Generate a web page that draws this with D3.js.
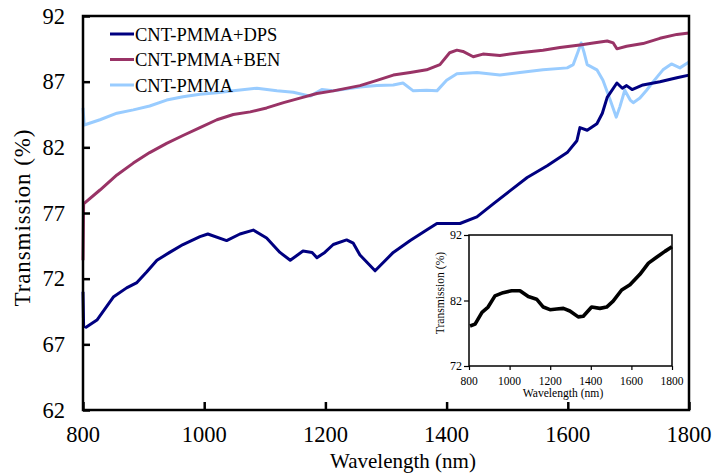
<!DOCTYPE html>
<html>
<head>
<meta charset="utf-8">
<script src="https://cdn.jsdelivr.net/npm/d3@7"></script>
<style>
  body { margin: 0; background: #fff; }
  text { font-family: "Liberation Serif", "Times New Roman", serif; fill: #000; }
</style>
</head>
<body>
<svg width="714" height="473"></svg>
<script>
// wavelength (nm) / transmission (%) pairs
const dpsWave = [800, 801, 805, 823, 850, 872, 889, 905, 922, 943, 965, 993, 1006, 1037, 1059, 1081, 1103, 1125, 1142, 1163, 1178, 1186, 1199, 1213, 1235, 1246, 1257, 1282, 1312, 1340, 1367, 1384, 1422, 1450, 1477, 1505, 1533, 1566, 1599, 1615, 1620, 1632, 1648, 1657, 1665, 1681, 1690, 1697, 1706, 1724, 1752, 1780, 1800];
const dpsTrans = [71.0, 68.4, 68.3, 68.85, 70.6, 71.3, 71.7, 72.5, 73.4, 74.0, 74.6, 75.2, 75.4, 74.9, 75.4, 75.7, 75.1, 74.0, 73.4, 74.1, 74.0, 73.6, 74.0, 74.6, 74.95, 74.7, 73.8, 72.6, 74.0, 74.9, 75.7, 76.2, 76.2, 76.7, 77.7, 78.7, 79.7, 80.6, 81.6, 82.5, 83.5, 83.3, 83.8, 84.6, 85.8, 86.9, 86.5, 86.7, 86.4, 86.75, 87.0, 87.3, 87.5];

const benWave = [800, 801, 828, 856, 883, 910, 938, 965, 993, 1021, 1048, 1076, 1103, 1131, 1158, 1186, 1213, 1257, 1285, 1312, 1340, 1367, 1389, 1405, 1417, 1427, 1444, 1460, 1488, 1521, 1559, 1587, 1620, 1642, 1665, 1675, 1681, 1697, 1724, 1752, 1780, 1800];
const benTrans = [73.4, 77.7, 78.75, 79.9, 80.8, 81.6, 82.3, 82.9, 83.5, 84.1, 84.5, 84.7, 85.0, 85.4, 85.75, 86.1, 86.3, 86.7, 87.1, 87.5, 87.7, 87.9, 88.3, 89.2, 89.4, 89.3, 88.9, 89.1, 89.0, 89.2, 89.4, 89.6, 89.8, 89.95, 90.1, 89.95, 89.5, 89.7, 89.9, 90.3, 90.6, 90.7];

const pmmaWave = [800, 802, 828, 856, 883, 910, 938, 965, 993, 1021, 1048, 1087, 1120, 1147, 1175, 1194, 1213, 1257, 1285, 1312, 1328, 1345, 1367, 1384, 1400, 1417, 1450, 1488, 1521, 1559, 1599, 1609, 1617, 1622, 1627, 1632, 1648, 1658, 1670, 1680, 1686, 1694, 1703, 1708, 1719, 1730, 1741, 1757, 1771, 1785, 1800];
const pmmaTrans = [85.0, 83.7, 84.1, 84.6, 84.85, 85.15, 85.6, 85.85, 86.05, 86.15, 86.3, 86.5, 86.3, 86.2, 85.9, 86.4, 86.3, 86.6, 86.7, 86.75, 86.9, 86.3, 86.35, 86.3, 87.1, 87.6, 87.7, 87.5, 87.7, 87.9, 88.05, 88.3, 89.3, 89.95, 89.2, 88.3, 87.9, 87.1, 85.6, 84.3, 85.1, 86.35, 85.6, 85.4, 85.75, 86.35, 87.0, 87.9, 88.35, 88.05, 88.5];

// inset curve
const insetWave = [805, 830, 864, 894, 928, 968, 1010, 1051, 1092, 1133, 1166, 1199, 1232, 1265, 1297, 1338, 1363, 1404, 1445, 1478, 1510, 1552, 1593, 1642, 1684, 1724, 1765, 1800];
const insetTrans = [78.1, 78.4, 80.2, 81.0, 82.7, 83.2, 83.5, 83.5, 82.6, 82.2, 81.0, 80.6, 80.7, 80.8, 80.4, 79.5, 79.6, 81.0, 80.8, 81.0, 81.9, 83.6, 84.4, 86.0, 87.7, 88.6, 89.5, 90.2];

const seriesNames = ['CNT-PMMA+DPS', 'CNT-PMMA+BEN', 'CNT-PMMA'];
const seriesColors = ['#000080', '#993366', '#99ccff'];
const xTicks = [800, 1000, 1200, 1400, 1600, 1800];
const yTicks = [62, 67, 72, 77, 82, 87, 92];
const insetYTicks = [72, 82, 92];

const svg = d3.select('svg');
const zip = (w, t) => w.map((d, i) => [d, t[i]]);

// main plot
const x = d3.scaleLinear().domain([800, 1800]).range([83, 689]);
const y = d3.scaleLinear().domain([62, 92]).range([410, 16]);

const line = d3.line().x(d => x(d[0])).y(d => y(d[1]));

const series = [zip(dpsWave, dpsTrans), zip(benWave, benTrans), zip(pmmaWave, pmmaTrans)];

// draw order: light blue under the others
[2, 1, 0].forEach(i => {
  svg.append('path')
    .attr('d', line(series[i]))
    .attr('fill', 'none')
    .attr('stroke', seriesColors[i])
    .attr('stroke-width', 3)
    .attr('stroke-linejoin', 'round');
});

// frame
svg.append('rect')
  .attr('x', 83).attr('y', 16)
  .attr('width', 606).attr('height', 394)
  .attr('fill', 'none')
  .attr('stroke', '#000')
  .attr('stroke-width', 2.5);

// inward ticks
const xAxis = d3.axisTop(x).tickValues(xTicks).tickSize(8).tickFormat('');
svg.append('g').attr('transform', 'translate(0,410)').call(xAxis)
  .call(g => g.select('.domain').remove())
  .call(g => g.selectAll('line').attr('stroke-width', 2.5));

const yAxis = d3.axisRight(y).tickValues(yTicks).tickSize(7).tickFormat('');
svg.append('g').attr('transform', 'translate(83,0)').call(yAxis)
  .call(g => g.select('.domain').remove())
  .call(g => g.selectAll('line').attr('stroke-width', 2.5));

// tick labels
svg.append('g').selectAll('text').data(xTicks).join('text')
  .attr('x', d => x(d)).attr('y', 442)
  .attr('text-anchor', 'middle')
  .style('font-size', '22.5px')
  .text(d => d);

svg.append('g').selectAll('text').data(yTicks).join('text')
  .attr('x', 65).attr('y', d => y(d))
  .attr('dy', '0.34em')
  .attr('text-anchor', 'end')
  .style('font-size', '22.5px')
  .text(d => d);

// axis titles
svg.append('text')
  .attr('x', 403).attr('y', 468)
  .attr('text-anchor', 'middle')
  .style('font-size', '21px')
  .text('Wavelength (nm)');

svg.append('text')
  .attr('transform', 'translate(30,218) rotate(-90)')
  .attr('text-anchor', 'middle')
  .attr('textLength', 177)
  .style('font-size', '23px')
  .text('Transmission (%)');

// legend
const legend = svg.append('g').attr('transform', 'translate(110,34)');
const rows = legend.selectAll('g').data(seriesNames).join('g')
  .attr('transform', (d, i) => `translate(0,${i * 25.5})`);
rows.append('line')
  .attr('x1', 0).attr('x2', 24)
  .attr('stroke', (d, i) => seriesColors[i])
  .attr('stroke-width', 3);
rows.append('text')
  .attr('x', 25).attr('y', 6.5)
  .style('font-size', '18.5px')
  .text(d => d);

// inset
const ix = d3.scaleLinear().domain([800, 1800]).range([469, 672]);
const iy = d3.scaleLinear().domain([72, 92]).range([366, 235]);
const inset = svg.append('g');

inset.append('rect')
  .attr('x', 469).attr('y', 235)
  .attr('width', 203).attr('height', 131)
  .attr('fill', '#fff')
  .attr('stroke', '#000')
  .attr('stroke-width', 1.5);

inset.append('path')
  .attr('d', d3.line().x(d => ix(d[0])).y(d => iy(d[1]))(zip(insetWave, insetTrans)))
  .attr('fill', 'none')
  .attr('stroke', '#000')
  .attr('stroke-width', 3.6)
  .attr('stroke-linejoin', 'round');

inset.append('g').attr('transform', 'translate(0,366)')
  .call(d3.axisBottom(ix).tickValues(xTicks).tickSize(4).tickFormat(''))
  .call(g => g.select('.domain').remove())
  .call(g => g.selectAll('line').attr('stroke-width', 1.2));

inset.append('g').attr('transform', 'translate(469,0)')
  .call(d3.axisLeft(iy).tickValues(insetYTicks).tickSize(5).tickFormat(''))
  .call(g => g.select('.domain').remove())
  .call(g => g.selectAll('line').attr('stroke-width', 1.2));

inset.append('g').selectAll('text').data(xTicks).join('text')
  .attr('x', d => ix(d)).attr('y', 384.5)
  .attr('text-anchor', 'middle')
  .style('font-size', '11.5px')
  .text(d => d);

inset.append('g').selectAll('text').data(insetYTicks).join('text')
  .attr('x', 462).attr('y', d => iy(d))
  .attr('dy', '0.34em')
  .attr('text-anchor', 'end')
  .style('font-size', '12px')
  .text(d => d);

inset.append('text')
  .attr('x', 563).attr('y', 396.5)
  .attr('text-anchor', 'middle')
  .style('font-size', '11.6px')
  .text('Wavelength (nm)');

inset.append('text')
  .attr('transform', 'translate(444,293) rotate(-90)')
  .attr('text-anchor', 'middle')
  .style('font-size', '11.6px')
  .text('Transmission (%)');
</script>
</body>
</html>
